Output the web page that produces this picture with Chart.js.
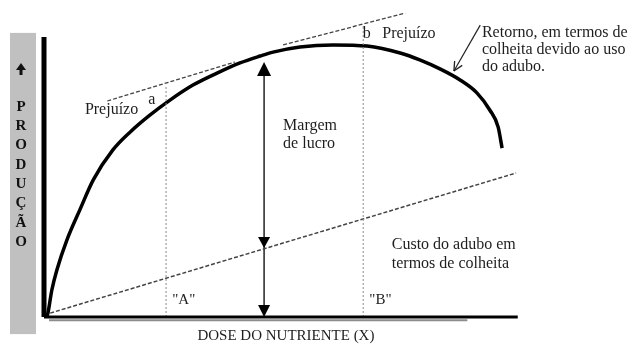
<!DOCTYPE html>
<html lang="pt">
<head>
<meta charset="utf-8">
<script src="https://cdn.jsdelivr.net/npm/chart.js@4.4.1/dist/chart.umd.min.js"></script>
<style>
  html, body { margin: 0; padding: 0; background: #fff; }
  #wrap { position: relative; width: 635px; height: 347px; }
</style>
</head>
<body>
<div id="wrap"><canvas id="chart"></canvas></div>
<script>
'use strict';

// ---------- dados (unidades do gráfico: dose 0-100, produção 0-104) ----------
const curveX = [0.5, 0.7, 1.4, 2.3, 4.1, 6.4, 8.8, 12.3, 15.4, 18.9, 22.5, 26.6, 30.9, 35.0,
  38.6, 40.9, 45.7, 51.6, 57.7, 63.6, 67.1, 70.7, 74.3, 77.3, 79.6, 81.1, 81.8];
const curveY = [0, 1.3, 9.0, 15.7, 25.7, 35.7, 45.7, 55.7, 61.7, 67.3, 72.3, 77.3, 81.3, 84.7,
  87.0, 88.3, 90.0, 90.7, 90.3, 88.0, 85.7, 82.7, 79.0, 74.7, 69.0, 63.3, 56.3];

const costX = [1.1, 84.3];           // custo do adubo em termos de colheita
const costY = [1.3, 48.0];
const tanAX = [11.3, 34.1];          // tangente em "a"
const tanAY = [72.0, 85.0];
const tanBX = [42.7, 64.5];          // tangente em "b"
const tanBY = [90.7, 101.3];

const doseX = [21.8, 57.0];          // doses "A" e "B"
const doseTop = [77.3, 97.3];
const doseNames = ['"A"', '"B"'];

const marginX = 39.3;                // seta da margem de lucro
const marginY = [85.0, 23.0, 0];     // topo (curva), custo, eixo

const pointerX = [77.9, 73.2];       // seta "Retorno..."
const pointerY = [97.3, 82.0];

const axisYTop = 93.3;
const axisXEnd = 84.6;
const shadowX = [0.9, 75.6];         // sombra cinza sob o eixo X

const yTitle = ['P', 'R', 'O', 'D', 'U', 'Ç', 'Ã', 'O'];
const xTitle = 'DOSE DO NUTRIENTE (X)';

// ---------- utilidades ----------
const pts = (xs, ys) => xs.map((x, i) => ({ x, y: ys[i] }));
const SERIF = '"Liberation Serif", "Times New Roman", serif';
const INK = '#1e1e1e';

function line(data, color, width, dash, extra) {
  return Object.assign({
    data, borderColor: color, borderWidth: width, borderDash: dash || [],
    pointRadius: 0, showLine: true, fill: false, clip: false, tension: 0
  }, extra || {});
}

function tri(c, tipX, tipY, dir, w, h) {
  // dir: -1 = aponta para cima, 1 = aponta para baixo
  c.beginPath();
  c.moveTo(tipX, tipY);
  c.lineTo(tipX - w / 2, tipY - dir * h);
  c.lineTo(tipX + w / 2, tipY - dir * h);
  c.closePath();
  c.fill();
}

// ---------- desenho extra ----------
const annotations = {
  id: 'annotations',
  beforeDatasetsDraw(chart) {
    const { ctx: c, scales: { x, y } } = chart;
    const left = x.getPixelForValue(0);
    c.save();
    // faixa cinza com o título vertical
    c.fillStyle = '#c0c0c0';
    c.fillRect(left - 34, y.getPixelForValue(94.7), 26, y.getPixelForValue(-5.7) - y.getPixelForValue(94.7));
    const cx = left - 23;
    // seta para cima
    c.fillStyle = '#111';
    tri(c, cx, y.getPixelForValue(84.7), -1, 10, 7);
    c.fillRect(cx - 1.5, y.getPixelForValue(83), 3, 7);
    c.font = 'bold 15px ' + SERIF;
    c.textAlign = 'center';
    c.textBaseline = 'middle';
    const y0 = y.getPixelForValue(70);
    yTitle.forEach((ch, i) => c.fillText(ch, cx, y0 + i * 19.3));
    c.restore();
  },
  afterDatasetsDraw(chart) {
    const { ctx: c, scales: { x, y } } = chart;
    const X = (v) => x.getPixelForValue(v), Y = (v) => y.getPixelForValue(v);
    c.save();
    c.fillStyle = '#000';
    // pontas da seta da margem
    tri(c, X(marginX), Y(marginY[0]), -1, 14, 14);
    tri(c, X(marginX), Y(marginY[1]), 1, 12, 11);
    tri(c, X(marginX), Y(marginY[2]), 1, 12, 12);

    // ponta aberta da seta "Retorno"
    const tx = X(pointerX[1]), ty = Y(pointerY[1]);
    const ang = Math.atan2(ty - Y(pointerY[0]), tx - X(pointerX[0]));
    c.strokeStyle = '#222';
    c.lineWidth = 1.3;
    c.beginPath();
    [-0.45, 0.45].forEach((d) => {
      c.moveTo(tx, ty);
      c.lineTo(tx - 10 * Math.cos(ang + d), ty - 10 * Math.sin(ang + d));
    });
    c.stroke();

    // textos
    c.fillStyle = INK;
    c.textBaseline = 'middle';
    c.textAlign = 'left';
    c.font = '16px ' + SERIF;
    c.fillText('Prejuízo', X(7.3), Y(69));
    c.fillText('a', X(18.6), Y(72.3));
    c.fillText('b', X(56.9), Y(94.3));
    c.fillText('Prejuízo', X(60.4), Y(94.3));
    ['Retorno, em termos de', 'colheita devido ao uso', 'do adubo.'].forEach((t, i) =>
      c.fillText(t, X(78.2), Y(94.7 - i * 5.7)));
    c.fillText('Margem', X(42.7), Y(63.7));
    c.fillText('de lucro', X(42.7), Y(57.7));
    c.fillText('Custo do adubo em', X(62.1), Y(24));
    c.fillText('termos de colheita', X(62.1), Y(17.7));
    c.font = '15px ' + SERIF;
    doseX.forEach((d, i) => c.fillText(doseNames[i], X(d + 1.1), Y(5.7)));
    c.textAlign = 'center';
    c.font = '15px ' + SERIF;
    c.fillText(xTitle, X(43.2), Y(-6.4));
    c.restore();
  }
};

// ---------- gráfico ----------
new Chart(document.getElementById('chart'), {
  type: 'scatter',
  data: {
    datasets: [
      line(pts(shadowX, [-1.1, -1.1]), '#8c8c8c', 2),
      line(pts([0, axisXEnd], [0, 0]), '#000', 3),
      line(pts([0, 0], [0, axisYTop]), '#000', 5),
      line(pts([doseX[0], doseX[0]], [0, doseTop[0]]), '#8a8a8a', 1, [2, 2]),
      line(pts([doseX[1], doseX[1]], [0, doseTop[1]]), '#8a8a8a', 1, [2, 2]),
      line(pts(costX, costY), '#444', 1.5, [4, 2]),
      line(pts(tanAX, tanAY), '#444', 1.3, [4, 2]),
      line(pts(tanBX, tanBY), '#444', 1.3, [4, 2]),
      line(pts([marginX, marginX], [marginY[0] - 3, marginY[2] + 3]), '#000', 1.3),
      line(pts(pointerX, pointerY), '#222', 1.2),
      line(pts(curveX, curveY), '#000', 3.5, [], { cubicInterpolationMode: 'monotone' })
    ]
  },
  options: {
    responsive: true,
    maintainAspectRatio: false,
    animation: false,
    layout: { padding: { left: 44, right: 31, top: 5, bottom: 30 } },
    plugins: { legend: { display: false }, tooltip: { enabled: false } },
    scales: {
      x: { type: 'linear', min: 0, max: 100, display: false },
      y: { type: 'linear', min: 0, max: 104, display: false }
    }
  },
  plugins: [annotations]
});
</script>
</body>
</html>
